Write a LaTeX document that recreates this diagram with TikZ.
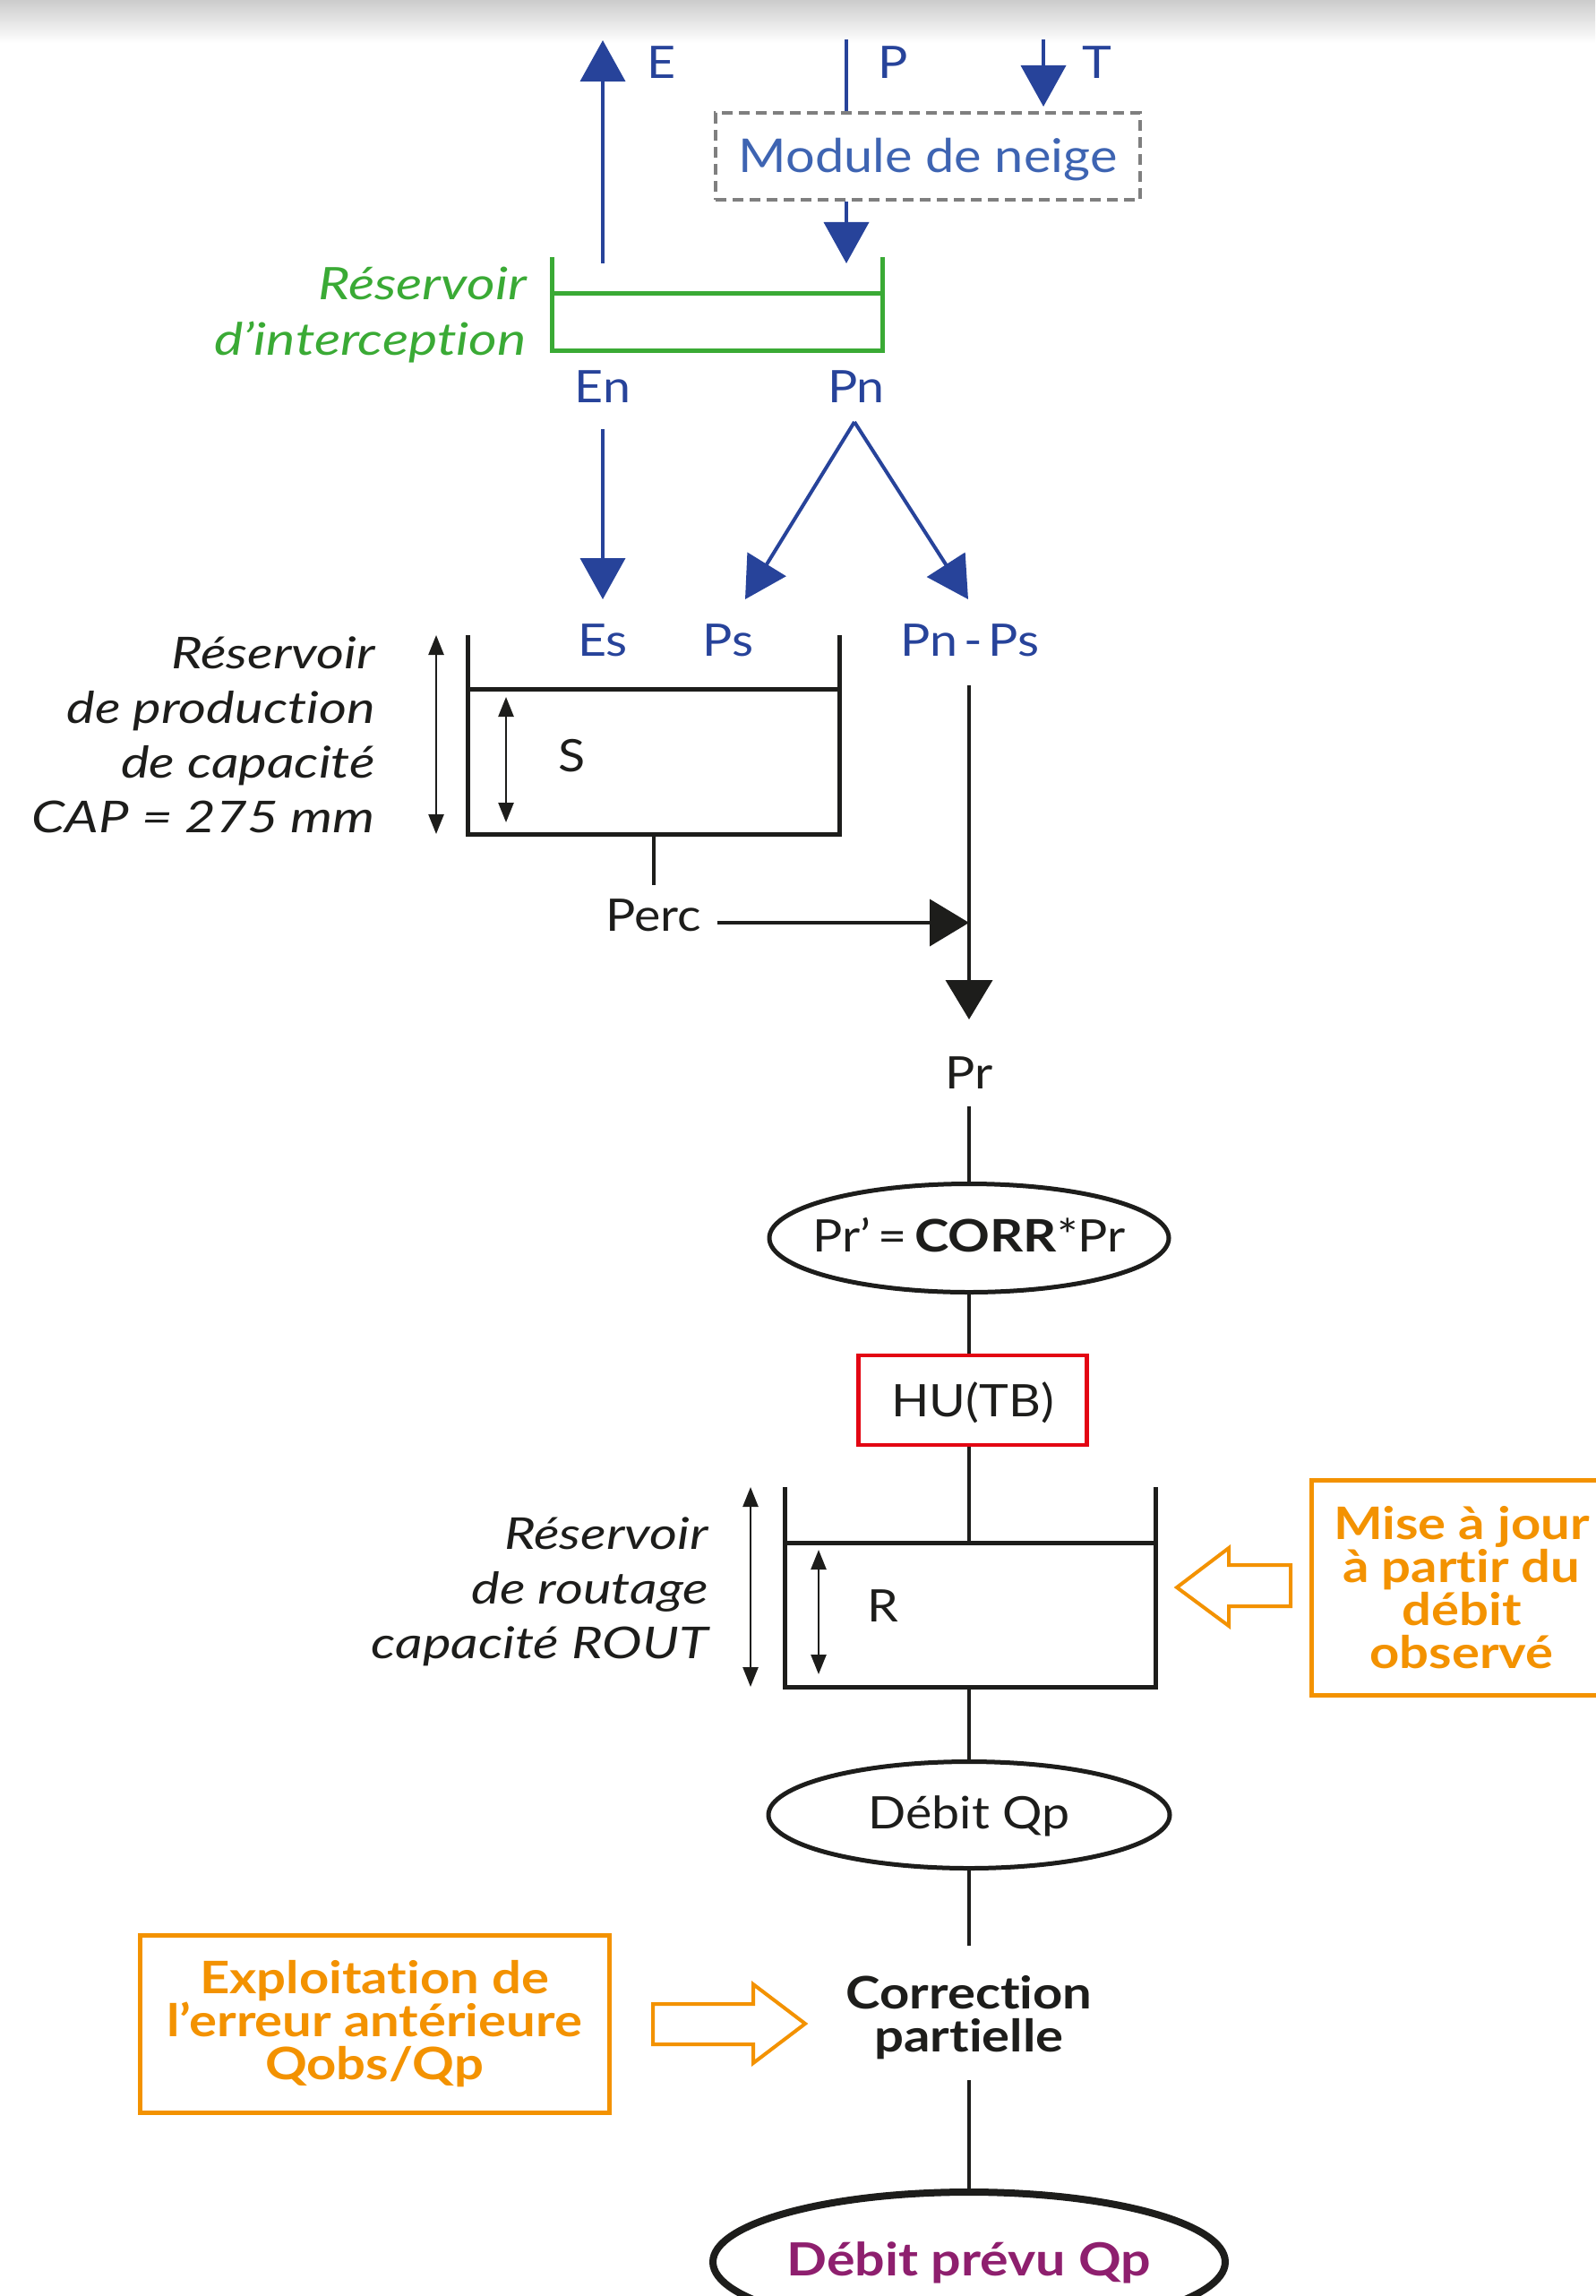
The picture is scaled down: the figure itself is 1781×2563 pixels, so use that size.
\documentclass[tikz,border=0pt]{standalone}
\usepackage{fontspec}
\setmainfont{Lato}[Ligatures=NoCommon,FakeStretch=1.11,ItalicFeatures={FakeStretch=1.22},BoldFeatures={FakeStretch=1.16}]
\usetikzlibrary{arrows.meta,shapes.geometric}
\definecolor{cblue}{HTML}{27439A}
\definecolor{cmod}{HTML}{3E64B2}
\definecolor{cgreen}{HTML}{3AAA35}
\definecolor{corange}{HTML}{F39200}
\definecolor{cred}{HTML}{E30613}
\definecolor{cpurple}{HTML}{8E1F6E}
\definecolor{cblack}{HTML}{1D1D1B}
\definecolor{cgray}{HTML}{7F7F7F}
\lineskiplimit=-100pt
\begin{document}
\begin{tikzpicture}[x=1pt,y=-1pt,
 lb/.style={inner sep=0pt,anchor=base,font=\fontsize{50}{60}\selectfont},
 blu/.style={lb,text=cblue},
 blk/.style={lb,text=cblack},
 barrow/.style={draw=cblue,line width=4pt,-{Triangle[length=46pt,width=50pt]}},
 karrow/.style={draw=cblack,line width=4pt,-{Triangle[length=44pt,width=52pt]}},
 kline/.style={draw=cblack,line width=4pt},
 tank/.style={draw=cblack,line width=5pt,line join=miter},
 gtank/.style={draw=cgreen,line width=5pt,line join=miter},
 dbl/.style={draw=cblack,line width=2.5pt,{Triangle[length=22pt,width=17pt]}-{Triangle[length=22pt,width=17pt]}},
 ell/.style={ellipse,draw=cblack,line width=5pt,inner sep=0pt,text height=30pt,text depth=0pt,font=\fontsize{50}{60}\selectfont,text=cblack},
 obox/.style={draw=corange,line width=5pt,inner sep=0pt,align=center,text=corange,font=\fontsize{50}{48}\selectfont\bfseries},
 hollow/.style={draw=corange,line width=4pt,fill=white,line join=miter},
 itlbl/.style={inner sep=0pt,align=right,anchor=east,font=\fontsize{49}{61}\selectfont\itshape},
]
\useasboundingbox (0,0) rectangle (1781,2563);
\shade[top color=black!20,bottom color=white] (0,0) rectangle (1781,48);

% ---- top: snow module and interception
\node[blu] (E) at (739,88) {E};
\node[blu] (P) at (997,88) {P};
\node[blu] (T) at (1225,88) {T};
\node[draw=cgray,dash pattern=on 12pt off 7pt,line width=4pt,minimum width=474pt,minimum height=97pt,inner sep=0pt,text=cmod,font=\fontsize{52}{60}\selectfont,text height=36pt,text depth=0pt] (mod) at (1036,174.5) {Module de neige};

\coordinate (Etop) at (673,45);
\coordinate (Ebot) at (673,294);
\draw[barrow] (Ebot) -- (Etop);
\coordinate (Ptop) at (945,44);
\draw[draw=cblue,line width=4pt] (Ptop) -- (Ptop |- mod.north);
\coordinate (Ttop) at (1165,44);
\draw[barrow] (Ttop) -- ([yshift=5pt]Ttop |- mod.north);
\coordinate (gin) at (945,294);
\draw[barrow] (mod.south -| gin) -- (gin);

% green reservoir
\coordinate (gtl) at (616,287);
\coordinate (gbr) at (985,391);
\draw[gtank] (gtl) -- (gtl |- gbr) -- (gbr) -- (gbr |- gtl);
\draw[gtank] (616,328) -- (985,328);
\node[itlbl,text=cgreen,font=\fontsize{50}{62}\selectfont\itshape] (glbl) at (588,352) {Réservoir\\d’interception};

% ---- En / Pn
\node[blu] (En) at (673,449) {En};
\node[blu] (Pn) at (956,449) {Pn};
\node[blu] (Es) at (673,732) {Es};
\node[blu] (Ps) at (813,732) {Ps};
\node[blu] (PnPs) at (1083,732) {\spaceskip=7pt Pn - Ps};
\draw[barrow] ([yshift=-30pt]En.base) -- ([yshift=63pt]Es.base);
\coordinate (apex) at (954,471);
\draw[barrow] (apex) -- ([xshift=19pt,yshift=63pt]Ps.base);
\draw[barrow] (apex) -- ([xshift=-2pt,yshift=63pt]PnPs.base);

% ---- production reservoir
\coordinate (ptl) at (522,709);
\coordinate (pbr) at (937,931);
\draw[tank] (ptl) -- (ptl |- pbr) -- (pbr) -- (pbr |- ptl);
\draw[tank] (522,769) -- (937,769);
\draw[dbl] (487,709) -- (487,931);
\draw[dbl] (565,778) -- (565,918);
\node[blk] (S) at (639,861) {S};
\node[itlbl,text=cblack] (plbl) at (419,820) {Réservoir\\de production\\de capacité\\CAP = 275 mm};

\node[blk] (Perc) at (730,1039) {Perc};
\draw[kline] (Perc.north |- pbr) -- ([yshift=15pt]Perc.north);
\coordinate (junc) at (1082,1030);
\draw[karrow] ([xshift=17pt]Perc.east |- junc) -- (junc);

\node[blk] (Pr) at (1082,1215) {Pr};
\draw[karrow] ([xshift=-1pt,yshift=-33pt]PnPs.base) -- ([yshift=77pt]Pr.base);

% ---- correction chain
\node[ell,minimum width=446pt,minimum height=121pt] (corr) at (1082,1382) {\makebox[0pt]{Pr’\,=\,\textbf{CORR}*Pr}};
\draw[kline] ([yshift=-20pt]Pr.base) -- (corr.north);
\node[draw=cred,line width=4.5pt,minimum width=255pt,minimum height=100pt,inner sep=0pt,text height=36pt,text depth=0pt,font=\fontsize{50}{60}\selectfont,text=cblack] (hu) at (1086,1563) {HU(TB)};
\draw[kline] (corr.south) -- (corr.south |- hu.north);

% ---- routing reservoir
\coordinate (rtl) at (876,1660);
\coordinate (rbr) at (1290,1883);
\draw[kline] (hu.south -| corr.south) -- (1082,1722);
\draw[tank] (rtl) -- (rtl |- rbr) -- (rbr) -- (rbr |- rtl);
\draw[tank] (876,1722) -- (1290,1722);
\draw[dbl] (838,1660) -- (838,1883);
\draw[dbl] (914,1730) -- (914,1869);
\node[blk] (R) at (986,1810) {R};
\node[itlbl,text=cblack] (rlbl) at (791,1777) {Réservoir\\de routage\\capacité ROUT};

\node[obox,minimum width=336pt,minimum height=240pt] (maj) at (1632,1772) {Mise à jour\\à partir du\\débit\\observé};
\draw[hollow] (1441,1747) -- (1372,1747) -- (1372,1728) -- (1314,1772) -- (1372,1815) -- (1372,1793) -- (1441,1793) -- cycle;

% ---- outputs
\node[ell,minimum width=448pt,minimum height=119pt] (dqp) at (1082,2026) {\makebox[0pt]{Débit Qp}};
\draw[kline] (1082,1883) -- (dqp.north);
\node[inner sep=0pt,align=center,text=cblack,font=\fontsize{50}{48}\selectfont\bfseries] (cp) at (1082,2252) {Correction\\partielle};
\draw[kline] (dqp.south) -- ([yshift=-2pt]dqp.south |- 0,2170);
\node[ell,line width=8pt,minimum width=572pt,minimum height=156pt,text=cpurple,font=\fontsize{51}{60}\selectfont\bfseries] (dpq) at (1082,2525) {\makebox[0pt]{Débit prévu Qp}};
\draw[kline] (1082,2322) -- (dpq.north);

\node[obox,minimum width=524pt,minimum height=198pt] (expl) at (418,2259) {Exploitation de\\l’erreur antérieure\\Qobs/Qp};
\draw[hollow] (729,2237) -- (841,2237) -- (841,2215) -- (899,2259) -- (841,2303) -- (841,2282) -- (729,2282) -- cycle;
\end{tikzpicture}
\end{document}
